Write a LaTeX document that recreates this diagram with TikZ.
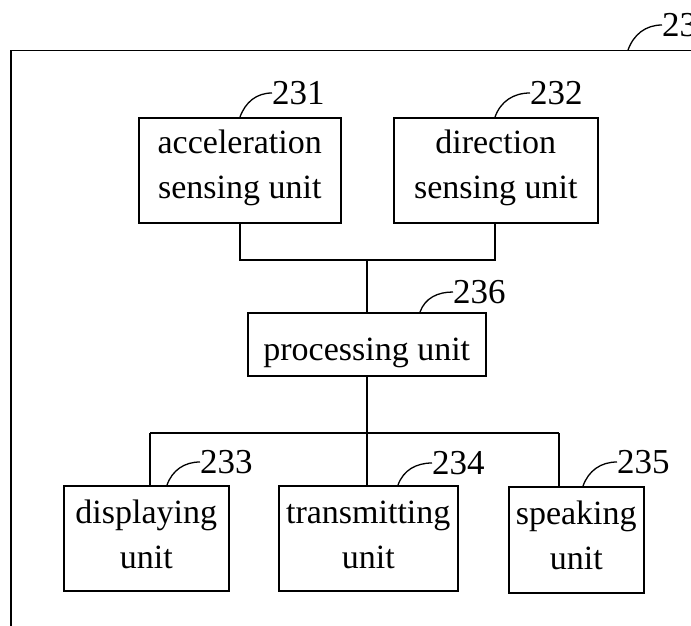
\documentclass[tikz,border=0pt]{standalone}
\usepackage{fontspec}
\setmainfont{Liberation Serif}
\usetikzlibrary{calc}
\newcommand{\twoline}[2]{\begin{tabular}[t]{@{}c@{}}#1\\#2\end{tabular}}
\begin{document}
\begin{tikzpicture}[x=1pt,y=-1pt,
  unitbox/.style={draw, line width=1.5pt, inner sep=0pt, anchor=north west,
    font=\fontsize{34}{45}\selectfont, align=center},
  reflabel/.style={anchor=west, inner sep=0pt, font=\fontsize{35}{40}\selectfont},
  leader/.style={line width=1.3pt},
  conn/.style={line width=1.5pt}]
\useasboundingbox (0,0) rectangle (691,626);
% outer frame
\node[draw, line width=1.5pt, anchor=north west, minimum width=720, minimum height=620, inner sep=0pt] (frame) at (10,50) {};
% unit boxes
\node[unitbox, minimum width=202, text height=36, text depth=69] (acc) at (138,117) {\twoline{acceleration}{sensing unit}};
\node[unitbox, minimum width=204, text height=36, text depth=69] (dir) at (393,117) {\twoline{direction}{sensing unit}};
\node[unitbox, minimum width=238, text height=48, text depth=15] (proc) at (247,312) {processing unit};
\node[unitbox, minimum width=165, text height=38, text depth=67] (disp) at (63,485) {\twoline{displaying}{unit}};
\node[unitbox, minimum width=179, text height=38, text depth=67] (trans) at (278,485) {\twoline{transmitting}{unit}};
\node[unitbox, minimum width=135, text height=38, text depth=68] (speak) at (508,486) {\twoline{speaking}{unit}};
% reference labels
\node[reflabel] (l23) at (662,25) {23};
\node[reflabel] (l231) at (272,93) {231};
\node[reflabel] (l232) at (530,93) {232};
\node[reflabel] (l236) at (453,292) {236};
\node[reflabel] (l233) at (200,462) {233};
\node[reflabel] (l234) at (432,463) {234};
\node[reflabel] (l235) at (617,462) {235};
% leaders
\draw[leader] ($(frame.north west)+(618,0)$) to[out=70,in=180] (l23.west);
\draw[leader] ($(acc.north west)+(102,0)$) to[out=70,in=180] (l231.west);
\draw[leader] ($(dir.north west)+(102,0)$) to[out=70,in=180] (l232.west);
\draw[leader] ($(proc.north west)+(173,0)$) to[out=70,in=180] (l236.west);
\draw[leader] ($(disp.north west)+(104,0)$) to[out=70,in=180] (l233.west);
\draw[leader] ($(trans.north west)+(120,0)$) to[out=70,in=180] (l234.west);
\draw[leader] ($(speak.north west)+(75,0)$) to[out=70,in=180] (l235.west);
% connectors
\coordinate (j1) at (367,260);
\coordinate (j2) at (367,433);
\coordinate (b1) at (150,433);
\coordinate (b3) at (559,433);
\draw[conn] ($(acc.south west)+(102,0)$) |- (j1) -| ($(dir.south west)+(102,0)$);
\draw[conn] (j1) -- (j1 |- proc.north);
\draw[conn] (j2 |- proc.south) -- (j2);
\draw[conn] (b1) -- (b3);
\draw[conn] (b1) -- (b1 |- disp.north);
\draw[conn] (j2) -- (j2 |- trans.north);
\draw[conn] (b3) -- (b3 |- speak.north);
\end{tikzpicture}
\end{document}
